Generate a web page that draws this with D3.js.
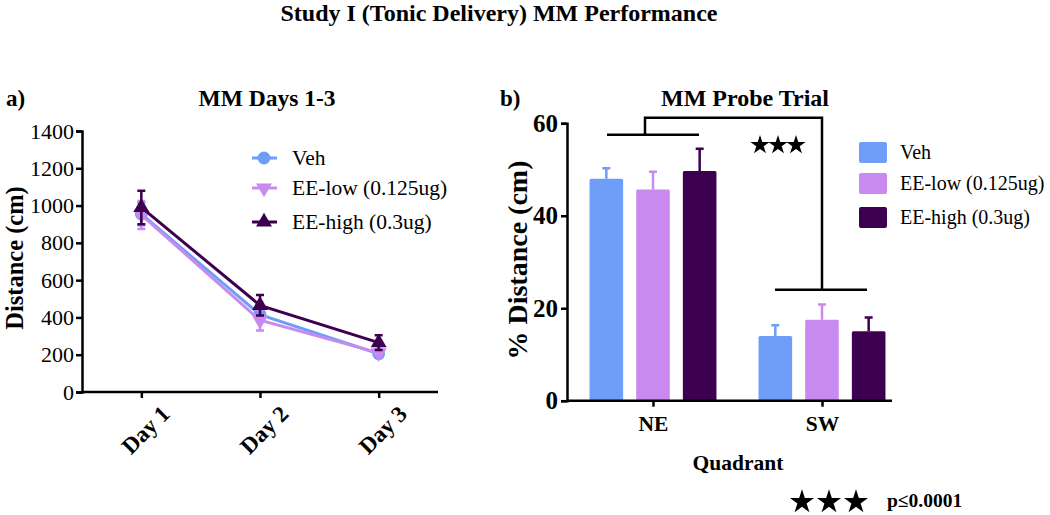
<!DOCTYPE html>
<html>
<head>
<meta charset="utf-8">
<script src="https://cdn.jsdelivr.net/npm/d3@7"></script>
<style>
  body { margin: 0; background: white; }
  svg { font-family: 'Liberation Serif', 'Times New Roman', serif; }
</style>
</head>
<body>
<div id="chart"></div>
<script>
// DATA
const groups = ['Veh', 'EE-low (0.125ug)', 'EE-high (0.3ug)'];
const colors = ['#6f9ef8', '#c98af0', '#3d0050'];
const days = ['Day 1', 'Day 2', 'Day 3'];
const dayMeans = [
    [955, 415, 205],
    [950, 385, 210],
    [990, 465, 265]
];
const dayErrs = [
    [60, 40, 15],
    [75, 55, 15],
    [90, 55, 40]
];
const leftTicks = [0, 200, 400, 600, 800, 1000, 1200, 1400];
const quadrants = ['NE', 'SW'];
const probeMeans = [
    [48, 14],
    [45.7, 17.5],
    [49.7, 15]
];
const probeErrs = [
    [2.3, 2.3],
    [3.8, 3.3],
    [4.8, 3]
];
const rightTicks = [0, 20, 40, 60];

const width = 1050, height = 515;

const svg = d3.select('#chart')
    .append('svg')
    .attr('width', width)
    .attr('height', height);

// MAIN TITLE
svg.append('text')
    .attr('x', 499).attr('y', 21)
    .attr('text-anchor', 'middle')
    .style('font-size', '24px').style('font-weight', 'bold')
    .text('Study I (Tonic Delivery) MM Performance');

// ---------- PANEL A ----------
const xA = d3.scalePoint().domain(days).range([82, 438]).padding(0.5);
const yA = d3.scaleLinear().domain([0, 1400]).range([392, 131]);

svg.append('text').attr('x', 6).attr('y', 106)
    .style('font-size', '23px').style('font-weight', 'bold').text('a)');
svg.append('text').attr('x', 267).attr('y', 106)
    .attr('text-anchor', 'middle')
    .style('font-size', '23.5px').style('font-weight', 'bold').text('MM Days 1-3');

const axLeftA = svg.append('g')
    .attr('transform', 'translate(82,0)')
    .call(d3.axisLeft(yA).tickValues(leftTicks).tickSize(6).tickPadding(2).tickFormat(d3.format('d')));
axLeftA.selectAll('text').style('font-size', '22px').style('font-family', 'Liberation Serif');

const axBotA = svg.append('g')
    .attr('transform', 'translate(0,392)')
    .call(d3.axisBottom(xA).tickSize(6).tickPadding(8));
axBotA.select('.domain').attr('d', 'M82,0H438');
axBotA.selectAll('text')
    .style('font-size', '23px').style('font-weight', 'bold').style('font-family', 'Liberation Serif')
    .attr('text-anchor', 'end')
    .attr('transform', 'translate(8,2) rotate(-45)')
    .attr('dy', '0.7em');

[axLeftA, axBotA].forEach(a => {
    a.selectAll('.domain, line').attr('stroke', 'black').attr('stroke-width', 2.5);
});

svg.append('text')
    .attr('transform', 'translate(23,258) rotate(-90)')
    .attr('text-anchor', 'middle')
    .style('font-size', '24.5px').style('font-weight', 'bold').text('Distance (cm)');

const symbols = [d3.symbolCircle, d3.symbolTriangle, d3.symbolTriangle];
const rotations = [0, 180, 0];
const line = d3.line().x((d, i) => xA(days[i])).y(d => yA(d));

groups.forEach((g, gi) => {
    const gr = svg.append('g');
    gr.append('path')
        .datum(dayMeans[gi])
        .attr('d', line)
        .attr('fill', 'none')
        .attr('stroke', colors[gi])
        .attr('stroke-width', 3);
    dayMeans[gi].forEach((m, i) => {
        const x = xA(days[i]);
        const e = dayErrs[gi][i];
        gr.append('path')
            .attr('d', `M${x},${yA(m - e)}V${yA(m + e)}M${x - 4},${yA(m - e)}H${x + 4}M${x - 4},${yA(m + e)}H${x + 4}`)
            .attr('stroke', colors[gi]).attr('stroke-width', 2.5).attr('fill', 'none');
        gr.append('path')
            .attr('d', d3.symbol().type(symbols[gi]).size(gi === 0 ? 130 : 110)())
            .attr('transform', `translate(${x},${yA(m)}) rotate(${rotations[gi]})`)
            .attr('fill', colors[gi]);
    });
});

// legend A
const legA = svg.append('g');
groups.forEach((g, gi) => {
    const y = [158, 188, 222][gi];
    legA.append('line').attr('x1', 252).attr('x2', 277).attr('y1', y).attr('y2', y)
        .attr('stroke', colors[gi]).attr('stroke-width', 3);
    legA.append('path')
        .attr('d', d3.symbol().type(symbols[gi]).size(gi === 0 ? 130 : 110)())
        .attr('transform', `translate(264,${y}) rotate(${rotations[gi]})`)
        .attr('fill', colors[gi]);
    legA.append('text').attr('x', 292).attr('y', y + 7)
        .style('font-size', '21.5px').text(g);
});

// ---------- PANEL B ----------
const xB = d3.scalePoint().domain(quadrants).range([653, 822]);
const xInner = d3.scaleBand().domain(groups).range([-70, 70]).paddingInner(0.28).paddingOuter(0.14);
const yB = d3.scaleLinear().domain([0, 60]).range([400.7, 123.3]);

svg.append('text').attr('x', 500).attr('y', 106)
    .style('font-size', '23px').style('font-weight', 'bold').text('b)');
svg.append('text').attr('x', 745).attr('y', 106)
    .attr('text-anchor', 'middle')
    .style('font-size', '24px').style('font-weight', 'bold').text('MM Probe Trial');

// bars
groups.forEach((g, gi) => {
    quadrants.forEach((q, qi) => {
        const x0 = xB(q) + xInner(g);
        const w = xInner.bandwidth();
        const m = probeMeans[gi][qi], e = probeErrs[gi][qi];
        const cx = x0 + w / 2;
        svg.append('path')
            .attr('d', `M${cx},${yB(m)}V${yB(m + e)}M${cx - 4},${yB(m + e)}H${cx + 4}`)
            .attr('stroke', colors[gi]).attr('stroke-width', 2.5);
        svg.append('rect')
            .attr('x', x0).attr('y', yB(m))
            .attr('width', w).attr('height', yB(0) - yB(m))
            .attr('rx', 1.5)
            .attr('fill', colors[gi]);
    });
});

const axLeftB = svg.append('g')
    .attr('transform', 'translate(567,0)')
    .call(d3.axisLeft(yB).tickValues(rightTicks).tickSize(6).tickPadding(3));
axLeftB.selectAll('text').style('font-size', '25px').style('font-weight', 'bold').style('font-family', 'Liberation Serif');

const axBotB = svg.append('g')
    .attr('transform', 'translate(0,400.7)')
    .call(d3.axisBottom(xB).tickSize(6).tickPadding(9));
axBotB.select('.domain').attr('d', 'M567,0H892');
axBotB.selectAll('text').style('font-size', '21.5px').style('font-weight', 'bold').style('font-family', 'Liberation Serif');

[axLeftB, axBotB].forEach(a => {
    a.selectAll('.domain, line').attr('stroke', 'black').attr('stroke-width', 2.5);
});

svg.append('text')
    .attr('transform', 'translate(527,260) rotate(-90)')
    .attr('text-anchor', 'middle')
    .style('font-size', '28px').style('font-weight', 'bold').text('% Distance (cm)');
svg.append('text').attr('x', 738).attr('y', 470)
    .attr('text-anchor', 'middle')
    .style('font-size', '21.5px').style('font-weight', 'bold').text('Quadrant');

// significance bracket
const neTop = yB(57.5), swTop = yB(24), topY = yB(61.2);
const neC = xB('NE') - 8, swC = xB('SW');
svg.append('path')
    .attr('d', `M${xB('NE') - 46},${neTop}H${xB('NE') + 46}M${neC},${neTop}V${topY}H${swC}V${swTop}M${xB('SW') - 47},${swTop}H${xB('SW') + 45}`)
    .attr('fill', 'none').attr('stroke', 'black').attr('stroke-width', 2.5);

const star = d3.symbol().type(d3.symbolStar);
[760, 778, 796].forEach(x => {
    svg.append('path').attr('d', star.size(115)())
        .attr('transform', `translate(${x},${yB(55.3)})`).attr('fill', 'black');
});

// legend B
groups.forEach((g, gi) => {
    const y = [152, 183, 217][gi];
    svg.append('rect').attr('x', 859).attr('y', y - 10).attr('width', 28).attr('height', 21)
        .attr('rx', 2).attr('fill', colors[gi]);
    svg.append('text').attr('x', 900).attr('y', y + 7)
        .style('font-size', '20px').text(g);
});

// bottom key
[802, 829, 856].forEach(x => {
    svg.append('path').attr('d', star.size(180)())
        .attr('transform', `translate(${x},502)`).attr('fill', 'black');
});
svg.append('text').attr('x', 887).attr('y', 507)
    .style('font-size', '19.5px').style('font-weight', 'bold').text('p≤0.0001');
</script>
</body>
</html>
